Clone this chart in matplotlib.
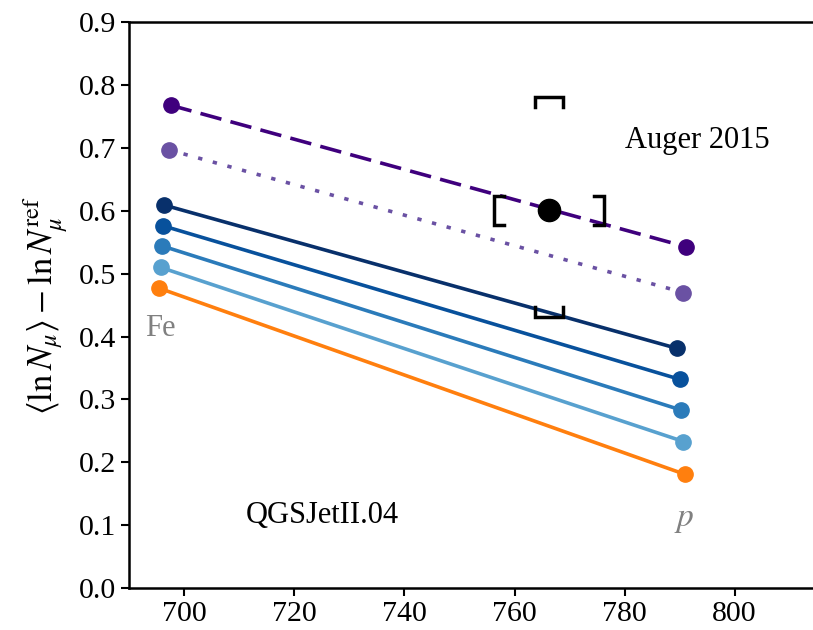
import matplotlib.pyplot as plt
import numpy as np

plt.rcParams['font.family'] = ['Liberation Serif', 'DejaVu Serif']
plt.rcParams['mathtext.fontset'] = 'stix'

# x positions of the Fe and p endpoints, one per model line
x_fe = [697.5, 697.2, 696.4, 696.2, 696.0, 695.7, 695.4]
x_p = [791.1, 790.7, 789.6, 790.0, 790.3, 790.7, 790.9]
# y values at Fe and p
y_fe = [0.768, 0.697, 0.609, 0.576, 0.544, 0.510, 0.477]
y_p = [0.543, 0.470, 0.381, 0.332, 0.283, 0.233, 0.181]
colors = ['#3f007d', '#6a51a3', '#08306b', '#08519c', '#2b7bba', '#58a1cf', '#ff7f0e']
styles = ['dashed', 'dotted', 'solid', 'solid', 'solid', 'solid', 'solid']

# Auger 2015 point with systematic brackets
auger_x, auger_y = 766.3, 0.601
auger_xerr = [10.0, 10.0]
auger_yerr = [0.170, 0.180]

fig = plt.figure(figsize=(8.13, 6.3), dpi=100)
ax = fig.add_axes([0.159, 0.0667, 0.88, 0.898])

for i in range(len(y_fe)):
    ls = styles[i]
    kw = {}
    if ls == 'dashed':
        kw['dashes'] = (6, 2.6)
    elif ls == 'dotted':
        kw['dashes'] = (1.2, 3.0)
    ax.plot([x_fe[i], x_p[i]], [y_fe[i], y_p[i]], color=colors[i], lw=2.6,
            marker='o', markersize=11, **kw)

# data point
ax.plot(auger_x, auger_y, 'o', color='black', markersize=16, zorder=5)

# brackets for the systematics
bw_x, bh_y = 2.6, 0.023
tk_x, tk_y = 1.8, 0.016
xl = auger_x - auger_xerr[0]
xr = auger_x + auger_xerr[1]
yb = auger_y - auger_yerr[0]
yt = auger_y + auger_yerr[1]
bk = dict(color='black', lw=2.5, solid_joinstyle='miter', zorder=5)
ax.plot([xl + tk_x, xl, xl, xl + tk_x], [auger_y + bh_y, auger_y + bh_y, auger_y - bh_y, auger_y - bh_y], **bk)
ax.plot([xr - tk_x, xr, xr, xr - tk_x], [auger_y + bh_y, auger_y + bh_y, auger_y - bh_y, auger_y - bh_y], **bk)
ax.plot([auger_x - bw_x, auger_x - bw_x, auger_x + bw_x, auger_x + bw_x], [yt - tk_y, yt, yt, yt - tk_y], **bk)
ax.plot([auger_x - bw_x, auger_x - bw_x, auger_x + bw_x, auger_x + bw_x], [yb + tk_y, yb, yb, yb + tk_y], **bk)

ax.text(793.2, 0.712, 'Auger 2015', fontsize=22, ha='center', va='center')
ax.text(711.2, 0.116, 'QGSJetII.04', fontsize=22, ha='left', va='center')
ax.text(695.7, 0.413, 'Fe', fontsize=22, color='gray', ha='center', va='center')
ax.text(790.8, 0.108, '$p$', fontsize=24, color='gray', ha='center', va='center')

ax.set_xlim(690, 820)
ax.set_ylim(0, 0.9)
ax.set_xticks(np.arange(700, 801, 20))
ax.set_yticks(np.arange(0, 0.91, 0.1))
ax.set_yticklabels(['%.1f' % v for v in np.arange(0, 0.91, 0.1)])
ax.tick_params(labelsize=21.5, width=1.5, length=6)
for s in ax.spines.values():
    s.set_linewidth(1.8)
ax.set_ylabel(r'$\langle \ln N_\mu \rangle - \ln N_\mu^{\rm ref}$', fontsize=25, labelpad=6)

fig.savefig('out.png', dpi=100)
